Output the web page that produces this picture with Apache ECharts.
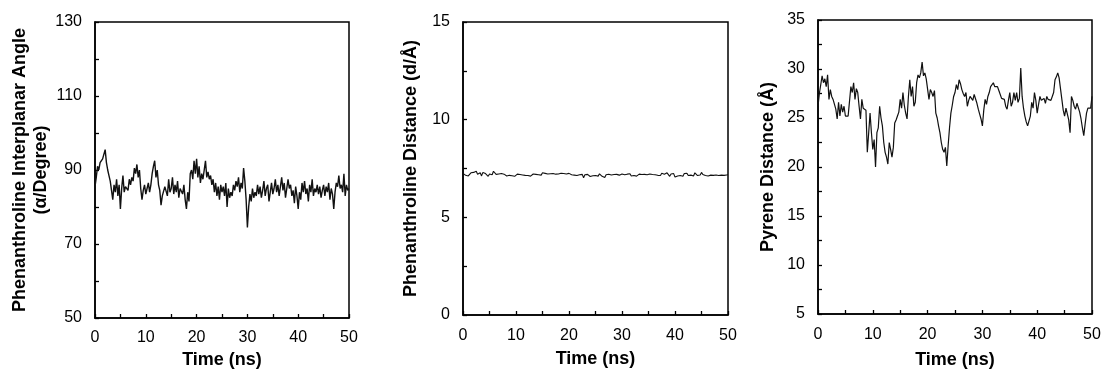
<!DOCTYPE html>
<html>
<head>
<meta charset="utf-8">
<script src="https://cdn.jsdelivr.net/npm/echarts@6/dist/echarts.min.js"></script>
<style>
html,body{margin:0;padding:0;background:#fff;}
#c{width:1105px;height:374px;}
</style>
</head>
<body>
<div id="c"></div>
<script>
// Time axis: 0..50 ns, step 0.25 ns
const timeStep = 0.25;
const xTicks = [0, 10, 20, 30, 40, 50];

// Panel 1: Phenanthroline interplanar angle (degrees)
const angleValues = [
 85.5, 88, 91, 90,
 92, 91.5, 93, 92.5,
 95.5, 92, 90, 88.5,
 87, 84.5, 82, 86,
 84, 87.5, 83, 86,
 79.5, 85, 88.5, 84,
 85.5, 86, 84.5, 87.5,
 86, 88, 87, 90.5,
 89, 91.5, 88, 90,
 85, 82, 84.5, 86,
 83.5, 85, 86.5, 84,
 86, 89, 91, 92.5,
 88, 90, 86, 84.5,
 80.5, 83, 82.5, 85.5,
 86, 83, 87.5, 84,
 85, 88, 83.5, 86,
 84, 87, 82.5, 85,
 84.5, 83.5, 86, 82,
 79.5, 84, 81.5, 89,
 90, 87.5, 92.5, 89,
 93, 88, 91, 86.5,
 89, 87.5, 90, 92.5,
 88, 89.5, 87.5, 88.5,
 86, 87.5, 84, 86.5,
 83, 85.5, 82, 86,
 84, 85.5, 83, 86.5,
 80, 85, 82.5, 84,
 83, 86, 84.5, 87,
 85.5, 88, 84, 86.5,
 85, 90.5, 87, 82,
 74.5, 80, 83.5, 81.5,
 85, 82.5, 84, 83,
 86, 83.5, 85.5, 82.5,
 84.5, 87, 83, 85,
 86, 81.5, 84, 86.5,
 83.5, 85, 87.5, 84,
 86, 83, 85.5, 88,
 84.5, 86.5, 82.5, 85,
 87.5, 85, 86, 83,
 84.5, 81, 85.5, 83,
 79.5, 84, 82, 86.5,
 84, 87, 83.5, 85,
 81.5, 86, 84, 87.5,
 83, 85, 84, 86,
 83.5, 85.5, 82.5, 84.5,
 86, 83, 85.5, 84,
 86.5, 82, 85, 83.5,
 79.5, 84, 86.5, 85.5,
 88.5, 85, 86, 84,
 89, 83, 86, 84.5,
 85
];

// Panel 2: Phenanthroline distance (Å)
const phenDistValues = [
 7.25, 7.18, 7.15, 7.22,
 7.12, 7.20, 7.28, 7.19,
 7.30, 7.24, 7.36, 7.21,
 7.16, 7.28, 7.12, 7.30,
 7.34, 7.24, 7.19, 7.10,
 7.22, 7.32, 7.18, 7.36,
 7.26, 7.20, 7.28, 7.22,
 7.17, 7.24, 7.14, 7.21,
 7.18, 7.12, 7.20, 7.15,
 7.19, 7.13, 7.18, 7.10,
 7.16, 7.21, 7.14, 7.19,
 7.12, 7.17, 7.10, 7.15,
 7.20, 7.14, 7.18, 7.11,
 7.16, 7.22, 7.13, 7.20,
 7.26, 7.18, 7.24, 7.16,
 7.28, 7.20, 7.25, 7.15,
 7.22, 7.17, 7.23, 7.19,
 7.24, 7.18, 7.21, 7.27,
 7.22, 7.28, 7.26, 7.20,
 7.24, 7.19, 7.22, 7.17,
 7.25, 7.21, 7.18, 7.23,
 7.16, 7.20, 7.14, 7.22,
 7.18, 7.24, 7.20, 7.03,
 7.18, 7.12, 7.20, 7.15,
 7.09, 7.17, 7.13, 7.21,
 7.14, 7.19, 7.11, 7.23,
 7.16, 7.10, 7.19, 7.04,
 7.18, 7.13, 7.21, 7.12,
 7.17, 7.10, 7.19, 7.14,
 7.20, 7.12, 7.16, 7.09,
 7.22, 7.15, 7.18, 7.13,
 7.21, 7.16, 7.23, 7.12,
 7.18, 7.14, 7.20, 7.11,
 7.17, 7.21, 7.13, 7.19,
 7.15, 7.20, 7.12, 7.18,
 7.16, 7.22, 7.14, 7.19,
 7.13, 7.18, 7.20, 7.15,
 7.22, 7.14, 7.26, 7.16,
 7.21, 7.12, 7.28, 7.18,
 7.10, 7.22, 7.15, 7.24,
 7.06, 7.16, 7.12, 7.20,
 7.14, 7.22, 7.10, 7.24,
 7.18, 7.26, 7.14, 7.22,
 7.16, 7.25, 7.12, 7.28,
 7.20, 7.14, 7.24, 7.17,
 7.30, 7.19, 7.22, 7.14,
 7.18, 7.12, 7.20, 7.16,
 7.19, 7.15, 7.21, 7.17,
 7.18, 7.14, 7.20, 7.16,
 7.19, 7.15, 7.18, 7.17,
 7.18
];

// Panel 3: Pyrene distance (Å)
const pyreneValues = [
 26.2, 27.5, 27.6, 29.3,
 28.6, 29.0, 28.2, 29.4,
 26.9, 27.9, 27.2, 26.9,
 26.9, 25.9, 24.9, 26.6,
 25.2, 26.4, 25.6, 26.2,
 25.2, 25.3, 25.2, 25.2,
 28.2, 27.6, 28.6, 26.9,
 28.0, 27.6, 26.2, 24.9,
 26.9, 26.0, 25.9, 25.8,
 21.5, 23.5, 25.5, 23.5,
 21.8, 22.8, 20.0, 23.5,
 24.0, 26.2, 25.0, 24.2,
 22.5, 21.5, 21.0, 20.3,
 22.5, 21.8, 21.0, 22.0,
 24.5, 24.8, 25.2, 25.6,
 26.9, 26.0, 27.6, 26.3,
 25.5, 24.9, 27.2, 28.9,
 27.2, 28.2, 26.2, 26.6,
 28.6, 29.4, 29.1, 29.6,
 30.7, 29.3, 29.6, 29.0,
 28.9, 26.9, 27.9, 27.6,
 27.2, 27.8, 25.5, 25.0,
 24.2, 23.5, 22.5, 21.8,
 21.5, 22.0, 20.1, 22.2,
 24.0, 25.5, 26.3, 27.2,
 27.6, 28.4, 27.9, 28.9,
 28.5, 27.9, 27.5, 27.2,
 27.6, 26.2, 26.8, 27.2,
 27.2, 26.8, 27.4, 27.2,
 26.5, 25.9, 25.4, 24.9,
 24.2, 25.8, 26.9, 26.4,
 27.2, 27.6, 28.2, 28.0,
 28.6, 28.2, 28.4, 28.2,
 27.8, 27.6, 27.0, 26.9,
 26.9, 26.2, 25.9, 26.8,
 27.6, 26.2, 26.6, 27.6,
 26.8, 27.6, 26.6, 27.0,
 30.1, 27.2, 26.0, 25.2,
 24.6, 24.2, 24.4, 25.2,
 26.6, 26.0, 27.6, 26.8,
 25.5, 26.4, 27.2, 26.8,
 26.6, 27.0, 26.5, 27.2,
 26.9, 27.0, 26.8, 27.2,
 27.6, 28.9, 29.2, 29.6,
 29.1, 28.0, 26.9, 25.8,
 25.2, 26.0, 25.9, 24.8,
 23.5, 27.2, 26.8, 26.2,
 25.9, 26.5, 26.6, 25.6,
 24.9, 24.0, 23.2, 24.4,
 25.5, 26.0, 26.2, 26.0,
 27.2
];

const angleTicks = [50, 70, 90, 110, 130];
const phenTicks = [0, 5, 10, 15];
const pyreneTicks = [5, 10, 15, 20, 25, 30, 35];

const xTitle = 'Time (ns)';
const yTitles = [
  'Phenanthroline Interplanar Angle\n(α/Degree)',
  'Phenanthroline Distance (d/Å)',
  'Pyrene Distance (Å)'
];

function pairs(vals) {
  return vals.map((v, i) => [i * timeStep, v]);
}

const FONT = 'Liberation Sans, Arial, sans-serif';

const grids = [
  {left: 95, top: 22, width: 254, height: 296},
  {left: 463, top: 22, width: 265, height: 293},
  {left: 818, top: 20, width: 274, height: 296}
];
const yCfg = [
  {min: 50, max: 130, interval: 20, gap: 43, ticks: angleTicks},
  {min: 0, max: 15, interval: 5, gap: 41, ticks: phenTicks},
  {min: 5, max: 35, interval: 5, gap: 39, ticks: pyreneTicks}
];
const xCfg = [
  {labelMargin: 12, gap: 30},
  {labelMargin: 13, gap: 35},
  {labelMargin: 13, gap: 37}
];
const lineWidths = [1.4, 1.1, 1.2];

const axisLine = {show: true, lineStyle: {color: '#000', width: 1.5}};
const axisTick = {show: true, inside: true, length: 4, lineStyle: {color: '#000', width: 1.3}};
const minorTick = {show: true, splitNumber: 2, length: 4, lineStyle: {color: '#000', width: 1.3}};

const option = {
  animation: false,
  backgroundColor: '#fff',
  grid: grids.map(g => Object.assign({show: true, borderColor: '#000', borderWidth: 1.5, backgroundColor: 'transparent'}, g)),
  xAxis: grids.map((g, i) => ({
    type: 'value', gridIndex: i, min: 0, max: 50, interval: 10,
    name: xTitle, nameLocation: 'middle', nameGap: xCfg[i].gap,
    nameTextStyle: {fontFamily: FONT, fontWeight: 'bold', fontSize: 18, color: '#000'},
    axisLine, axisTick, minorTick,
    splitLine: {show: false},
    axisLabel: {fontFamily: FONT, fontSize: 16, color: '#000', margin: xCfg[i].labelMargin}
  })),
  yAxis: grids.map((g, i) => ({
    type: 'value', gridIndex: i, min: yCfg[i].min, max: yCfg[i].max, interval: yCfg[i].interval,
    name: yTitles[i], nameLocation: 'middle', nameGap: yCfg[i].gap, nameRotate: 90,
    nameTextStyle: {fontFamily: FONT, fontWeight: 'bold', fontSize: 18, color: '#000', lineHeight: 21, align: 'center'},
    axisLine, axisTick, minorTick,
    splitLine: {show: false},
    axisLabel: {fontFamily: FONT, fontSize: 16, color: '#000', margin: 13}
  })),
  series: [angleValues, phenDistValues, pyreneValues].map((vals, i) => ({
    type: 'line', xAxisIndex: i, yAxisIndex: i,
    data: pairs(vals), showSymbol: false, symbol: 'none',
    lineStyle: {color: '#111', width: lineWidths[i]},
    silent: true
  }))
};

echarts.init(document.getElementById('c'), null, {renderer: 'canvas'}).setOption(option);
</script>
</body>
</html>
